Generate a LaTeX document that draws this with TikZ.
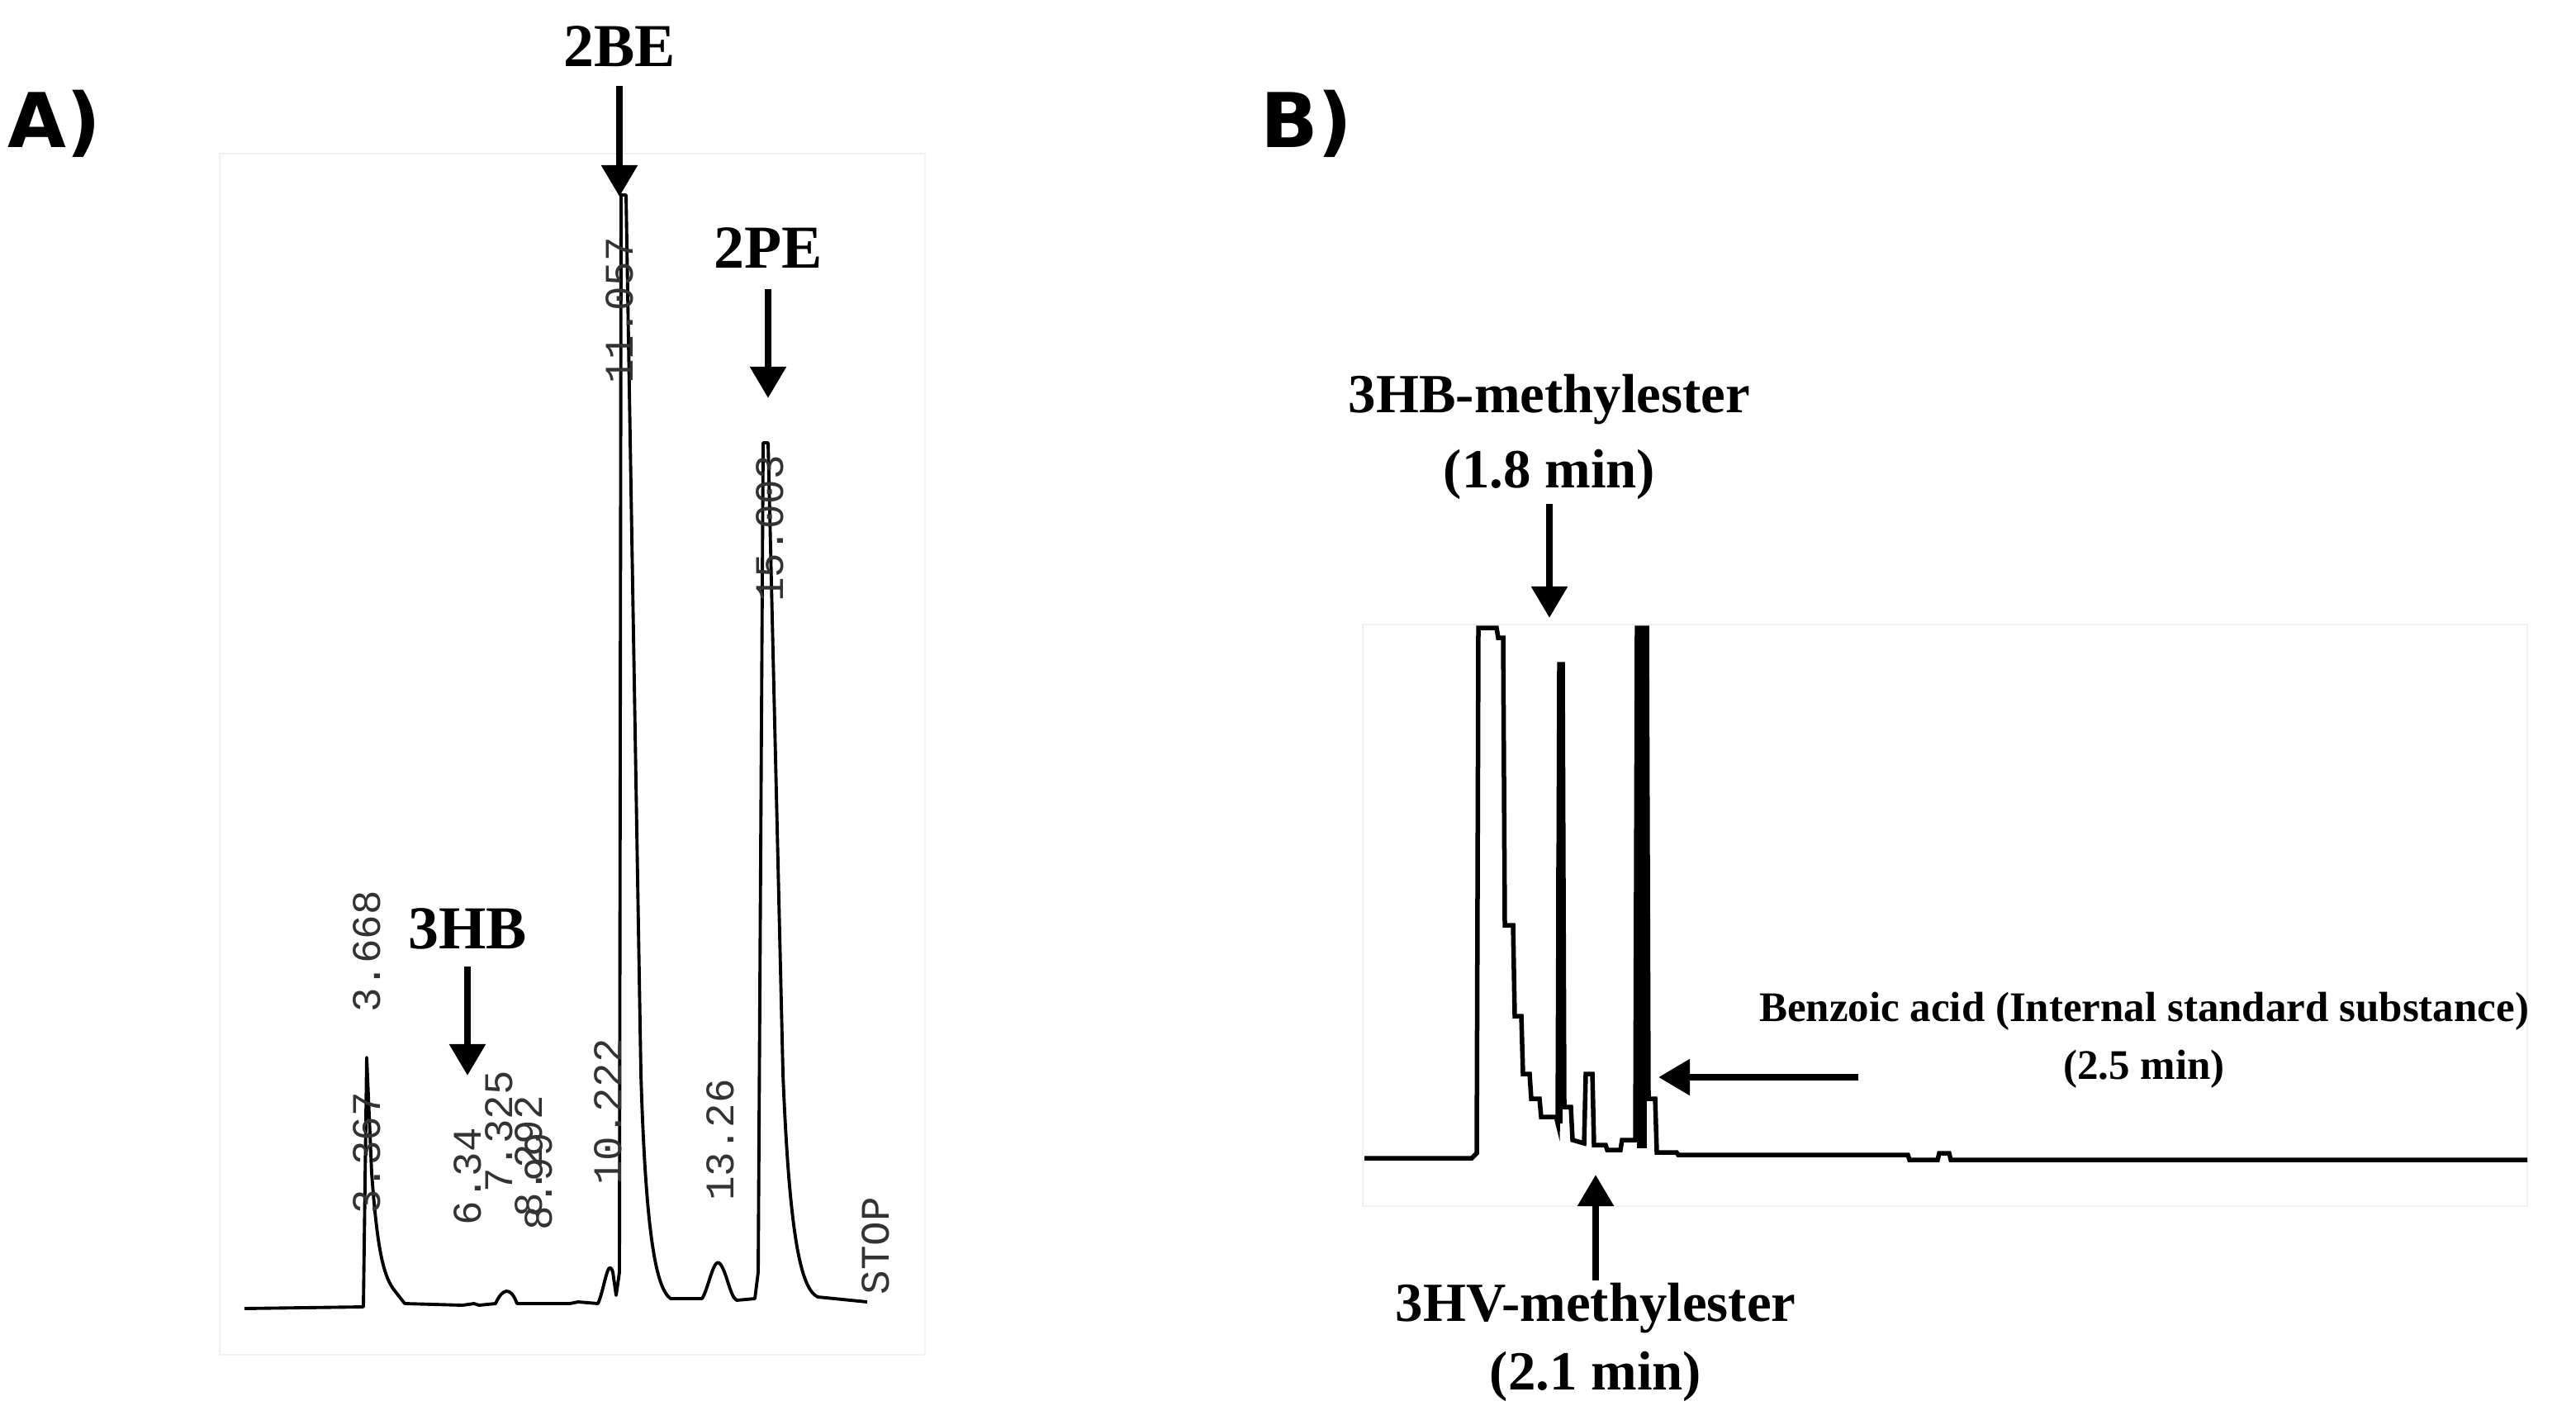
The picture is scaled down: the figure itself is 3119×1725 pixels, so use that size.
\documentclass[tikz,border=0pt]{standalone}
\usepackage{fontspec}
\setmainfont{Liberation Serif}
\newfontfamily\monof{Liberation Mono}
\newfontfamily\labf{DejaVu Sans}
\usetikzlibrary{arrows.meta}
\tikzset{
  bigarrow/.style={line width=0.085cm,-{Triangle[width=0.42cm,length=0.38cm]}},
  peaklab/.style={font=\bfseries\fontsize{21}{24}\selectfont,inner sep=0pt},
  blab/.style={font=\bfseries\fontsize{19}{22}\selectfont,inner sep=0pt,align=center},
  rt/.style={font=\monof\fontsize{14}{14}\selectfont,rotate=90,inner sep=0pt,text=black!80},
  panel/.style={font=\labf\bfseries\fontsize{26}{28}\selectfont,inner sep=0pt},
  trA/.style={line width=1.1pt,line join=round},
  trB/.style={line width=0.055cm,line join=miter},
  frame/.style={draw=black!6,line width=0.6pt}
}
\begin{document}
\begin{tikzpicture}[x=0.01cm,y=-0.01cm]
\useasboundingbox (0,0) rectangle (3119,1725);
\fill[white] (0,0) rectangle (3119,1725);
% panel labels
\node[panel] (pA) at (66,150) {A)};
\node[panel] (pB) at (1582,150) {B)};
% frames
\draw[frame] (266,186) rectangle (1120,1640);
\draw[frame] (1650,756) rectangle (3060,1460);
% ---------- A trace ----------
\draw[trA] (296,1584) -- (440,1582) -- (444,1280) -- (450,1420)
  .. controls (456,1500) and (462,1540) .. (476,1560) -- (490,1578) -- (560,1580)
  -- (574,1578) -- (580,1580) -- (600,1578) .. controls (608,1560) and (618,1556) .. (626,1578)
  -- (690,1578) -- (700,1576) -- (724,1578)
  .. controls (732,1560) and (736,1520) .. (742,1540) -- (746,1568)
  -- (750,1540) -- (752,236) -- (758,236) -- (776,1300)
  .. controls (782,1500) and (795,1560) .. (812,1572) -- (850,1572)
  .. controls (858,1560) and (864,1520) .. (872,1530) .. controls (880,1540) and (884,1570) .. (892,1574)
  -- (914,1572) -- (918,1540) -- (924,536) -- (930,536) -- (948,1300)
  .. controls (956,1500) and (970,1560) .. (990,1570) -- (1050,1576);
% A retention labels
\node[rt] (t1) at (444,1152) {3.668};
\node[rt] (t2) at (444,1396) {3.367};
\node[rt] (t3) at (566,1424) {6.34};
\node[rt] (t4) at (604,1370) {7.325};
\node[rt] (t5) at (640,1400) {8.292};
\node[rt] (t6) at (652,1430) {8.99};
\node[rt] (t7) at (736,1346) {10.222};
\node[rt] (t8) at (750,376) {11.057};
\node[rt] (t9) at (932,640) {15.003};
\node[rt] (t10) at (872,1380) {13.26};
\node[rt] (t11) at (1060,1508) {STOP};
% A peak labels and arrows
\node[peaklab] (l2BE) at (750,56) {2BE};
\coordinate (e2BE) at (750,238);
\draw[bigarrow] (750,104) -- (e2BE);
\node[peaklab] (l2PE) at (930,300) {2PE};
\coordinate (e2PE) at (930,482);
\draw[bigarrow] (930,350) -- (e2PE);
\node[peaklab] (l3HB) at (566,1124) {3HB};
\coordinate (e3HB) at (566,1302);
\draw[bigarrow] (566,1170) -- (e3HB);
% ---------- B trace ----------
\draw[trB] (1652,1402) -- (1782,1402) -- (1788,1396) -- (1790,760) -- (1812,760) -- (1814,772)
  -- (1820,772) -- (1822,1120) -- (1832,1120) -- (1834,1230) -- (1842,1230) -- (1844,1300)
  -- (1852,1300) -- (1854,1330) -- (1864,1330) -- (1866,1352) -- (1884,1352) -- (1886,1360)
  -- (1888,804) -- (1892,804) -- (1894,1340) -- (1902,1340) -- (1904,1380) -- (1918,1384)
  -- (1920,1300) -- (1928,1300) -- (1930,1386) -- (1944,1386) -- (1946,1392) -- (1962,1392)
  -- (1964,1380) -- (1980,1380) -- (1982,760) -- (1994,760) -- (1996,1330) -- (2004,1330)
  -- (2006,1395) -- (2030,1395) -- (2032,1398) -- (2310,1398) -- (2312,1404) -- (2346,1404)
  -- (2348,1396) -- (2360,1396) -- (2362,1404) -- (3060,1404);
\fill (1982,760) rectangle (1994,1390);
\fill (1884,1050) rectangle (1892,1360);
% B labels
\node[blab] (l3HBm) at (1876,484) {3HB-methylester};
\node[blab] (l3HBt) at (1876,574) {(1.8 min)};
\coordinate (e3HBm) at (1876,748);
\draw[bigarrow] (1876,610) -- (e3HBm);
\node[blab] (l3HV) at (1932,1584) {3HV-methylester};
\node[blab] (l3HVt) at (1932,1666) {(2.1 min)};
\coordinate (e3HV) at (1932,1422);
\draw[bigarrow] (1932,1550) -- (e3HV);
\node[font=\bfseries\fontsize{14.5}{16}\selectfont,inner sep=0pt] (lBz) at (2596,1224) {Benzoic acid (Internal standard substance)};
\node[font=\bfseries\fontsize{14.5}{16}\selectfont,inner sep=0pt] (lBzt) at (2596,1294) {(2.5 min)};
\coordinate (eBz) at (2008,1304);
\draw[bigarrow] (2250,1304) -- (eBz);
\end{tikzpicture}
\end{document}
